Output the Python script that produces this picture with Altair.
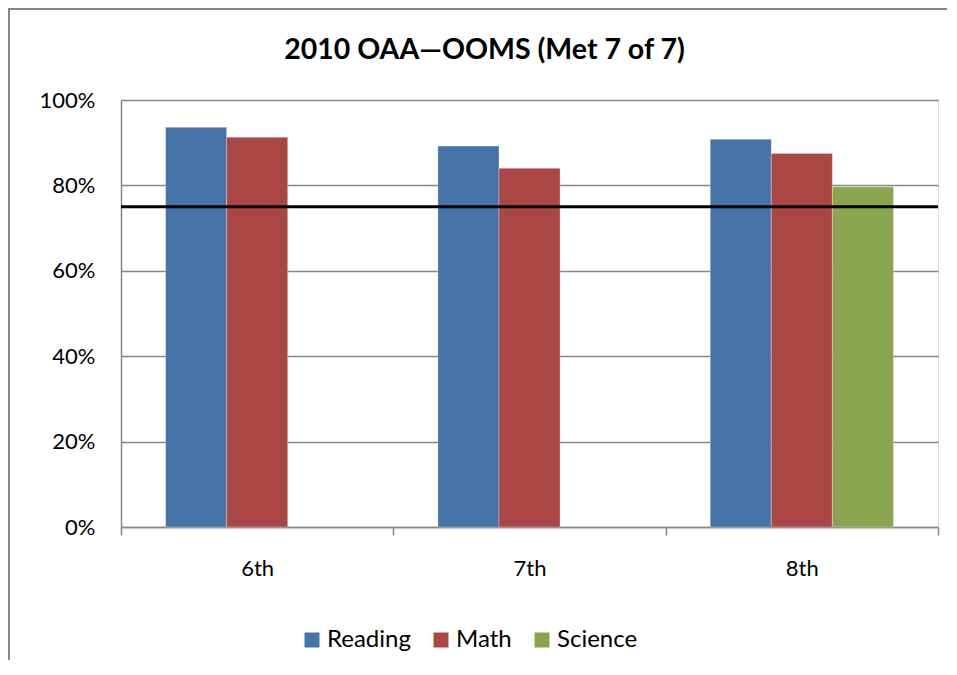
import altair as alt
import pandas as pd

grades = ["6th", "7th", "8th"]
subjects = ["Reading", "Math", "Science"]
reading = [93.6, 89.2, 90.8]
math = [91.3, 84.0, 87.5]
science = [None, None, 79.7]
target = [75]
colors = ["#4572A7", "#AA4643", "#89A54E"]
y_ticks = [0, 20, 40, 60, 80, 100]

rows = []
for i, g in enumerate(grades):
    for s, vals in zip(subjects, [reading, math, science]):
        if vals[i] is not None:
            rows.append({"grade": g, "subject": s, "value": vals[i]})
df = pd.DataFrame(rows)

FONT = "Lato"
GRAY = "#868686"

bars = alt.Chart(df).mark_bar(stroke="white", strokeWidth=0.6, strokeOpacity=0.5).encode(
    x=alt.X("grade:N", sort=grades,
            scale=alt.Scale(domain=grades, paddingInner=0, paddingOuter=0),
            axis=alt.Axis(title=None, labelAngle=0, labelFontSize=22, labelFont=FONT,
                          labelColor="black", domainColor=GRAY, domainWidth=1.5,
                          tickColor=GRAY, tickWidth=1.5, tickSize=8, tickBand="extent",
                          labelPadding=23, grid=False)),
    xOffset=alt.XOffset("subject:N", sort=subjects,
                        scale=alt.Scale(domain=subjects, paddingInner=0, paddingOuter=0.73)),
    y=alt.Y("value:Q", scale=alt.Scale(domain=[0, 100]),
            axis=alt.Axis(title=None, values=y_ticks, labelExpr="datum.value + '%'",
                          labelFontSize=22, labelFont=FONT, labelColor="black",
                          domainColor=GRAY, domainWidth=1.5, ticks=False, labelPadding=26,
                          grid=True, gridColor=GRAY, gridWidth=1.5)),
    color=alt.Color("subject:N", sort=subjects,
                    scale=alt.Scale(domain=subjects, range=colors),
                    legend=alt.Legend(title=None, orient="none", legendX=179, legendY=528,
                                      direction="horizontal", symbolType="square",
                                      symbolSize=225, symbolStrokeWidth=0,
                                      labelFontSize=24, labelFont=FONT, labelColor="black",
                                      columnPadding=18, labelOffset=3)),
)

line = alt.Chart(pd.DataFrame({"t": target})).mark_rule(color="black", strokeWidth=3).encode(
    y="t:Q"
)

border_left = alt.Chart(pd.DataFrame({"a": [0]})).mark_rule(color=GRAY, strokeWidth=2).encode(
    x=alt.value(-112), y=alt.value(-92), y2=alt.value(560)
)
border_top = alt.Chart(pd.DataFrame({"a": [0]})).mark_rule(color=GRAY, strokeWidth=2).encode(
    x=alt.value(-113), x2=alt.value(826), y=alt.value(-91)
)

chart = alt.layer(bars, line, border_left, border_top).properties(
    width=817, height=427,
    autosize=alt.AutoSizeParams(type="none"),
    padding={"left": 113, "top": 92, "right": 11, "bottom": 134},
    title=alt.Title("2010 OAA\u2014OOMS (Met 7 of 7)", font=FONT, fontSize=28.5,
                    fontWeight="bold", color="black", anchor="middle", dx=-45,
                    offset=0, dy=57),
).configure_view(stroke=None).configure(background="white")

chart.save("out.html", embed_options={"renderer": "svg", "actions": False})
